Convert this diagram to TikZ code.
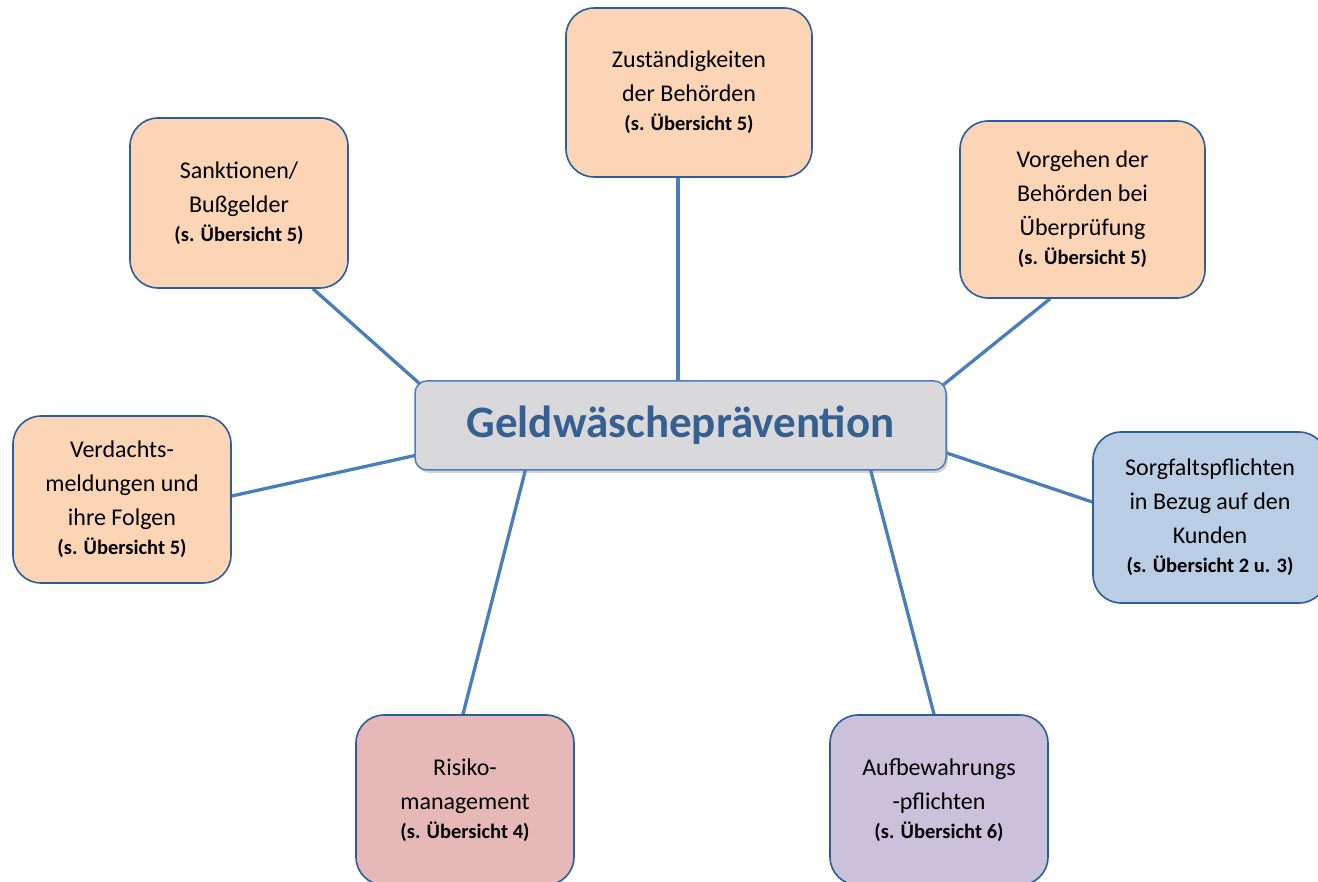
\documentclass[tikz,border=0pt]{standalone}
\usepackage{fontspec}
\setmainfont{Carlito}
\usetikzlibrary{shadows,backgrounds}
\definecolor{peach}{HTML}{FBD5B5}
\definecolor{lblue}{HTML}{B9CDE5}
\definecolor{lred}{HTML}{E6B9B8}
\definecolor{lpurple}{HTML}{CCC1DA}
\definecolor{boxborder}{HTML}{2A5E9C}
\definecolor{conn}{HTML}{4A7EBB}
\definecolor{centerfill}{HTML}{D9D9DB}
\definecolor{titleblue}{HTML}{376092}
\newcommand{\refline}[1]{\\[-5pt]{\fontsize{20.5}{28}\selectfont\bfseries #1}}
\begin{document}
\begin{tikzpicture}[x=1pt,y=-1pt,
  box/.style={draw=boxborder, line width=1.6pt, rounded corners=28pt, align=center,
    inner sep=0pt, font=\fontsize{24}{34}\selectfont, text=black},
  centerbox/.style={draw=conn, line width=1.5pt, rounded corners=12pt, fill=centerfill,
    inner sep=0pt, minimum width=531pt, minimum height=89pt,
    font=\fontsize{45}{52}\selectfont\bfseries, text=titleblue,
    drop shadow={shadow xshift=2pt, shadow yshift=-3pt, opacity=0.35}},
  link/.style={draw=conn, line width=3.3pt}]
\useasboundingbox (0,0) rectangle (1318,882);
\clip (0,0) rectangle (1318,882);

\node[centerbox] (center) at (680.5,425.5) {Geldwäscheprävention};

\node[box, fill=peach, minimum width=246pt, minimum height=169pt] (top) at (689,92.5)
  {Zuständigkeiten\\der Behörden\refline{(s. Übersicht 5)}};
\node[box, fill=peach, minimum width=218pt, minimum height=170pt] (sank) at (239,203)
  {Sanktionen/\\Bußgelder\refline{(s. Übersicht 5)}};
\node[box, fill=peach, minimum width=245pt, minimum height=177pt] (vorg) at (1082.5,209.5)
  {Vorgehen der\\Behörden bei\\Überprüfung\refline{(s. Übersicht 5)}};
\node[box, fill=peach, minimum width=218pt, minimum height=167pt] (verd) at (122,499.5)
  {Verdachts-\\meldungen und\\ihre Folgen\refline{(s. Übersicht 5)}};
\node[box, fill=lblue, minimum width=234pt, minimum height=171pt] (sorg) at (1210,517.5)
  {Sorgfaltspflichten\\in Bezug auf den\\Kunden\refline{(s. Übersicht 2 u. 3)}};
\node[box, fill=lred, minimum width=218pt, minimum height=170pt] (risk) at (465,800)
  {Risiko-\\management\refline{(s. Übersicht 4)}};
\node[box, fill=lpurple, minimum width=218pt, minimum height=170pt] (aufb) at (939,800)
  {Aufbewahrungs\\-pflichten\refline{(s. Übersicht 6)}};

\begin{scope}[on background layer]
\draw[link] ([xshift=-11pt]top.south) -- ([shift={(-2.5pt,-3pt)}]center.north);
\draw[link] ([xshift=74pt]sank.south) -- ([shift={(6pt,-4pt)}]center.north west);
\draw[link] ([xshift=-32.5pt]vorg.south) -- ([shift={(-4pt,-5pt)}]center.north east);
\draw[link] ([yshift=3.5pt]verd.east) -- ([shift={(3pt,-29.5pt)}]center.west);
\draw[link] ([shift={(-3pt,-26.5pt)}]center.east) -- ([yshift=15.5pt]sorg.west);
\draw[link] ([shift={(-154.5pt,3pt)}]center.south) -- ([xshift=-2pt]risk.north);
\draw[link] ([shift={(189.5pt,3pt)}]center.south) -- ([xshift=-5pt]aufb.north);
\end{scope}
\end{tikzpicture}
\end{document}
